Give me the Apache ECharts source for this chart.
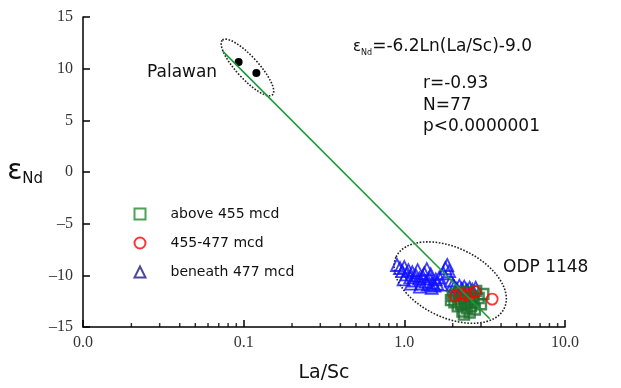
<!DOCTYPE html>
<html>
<head>
<meta charset="utf-8">
<script src="https://cdn.jsdelivr.net/npm/echarts@6/dist/echarts.min.js"></script>
<style>
  html, body { margin: 0; padding: 0; background: #fff; }
  #chart { width: 621px; height: 388px; }
</style>
</head>
<body>
<div id="chart"></div>
<script>
  // La/Sc vs eNd, Palawan and ODP 1148
  const minorTicks = [0.02, 0.03, 0.04, 0.05, 0.06, 0.07, 0.08, 0.09,
    0.2, 0.3, 0.4, 0.5, 0.6, 0.7, 0.8, 0.9, 2, 3, 4, 5, 6, 7, 8, 9];

  const palawan = [[0.093, 10.64], [0.120, 9.59]];

  const beneath477 = [
    [0.90, -9.0], [0.94, -9.3], [0.97, -9.6], [1.00, -9.2], [1.03, -9.9],
    [1.06, -9.5], [1.09, -10.2], [1.12, -9.7], [1.15, -10.5], [1.18, -10.0],
    [1.21, -9.5], [1.24, -10.3], [1.27, -10.8], [1.30, -10.1], [1.33, -9.8],
    [1.36, -10.6], [1.40, -10.9], [1.43, -10.3], [1.46, -9.9], [1.50, -10.7],
    [1.54, -11.0], [1.57, -10.4], [1.60, -10.8], [1.65, -10.2], [1.70, -10.9],
    [1.75, -9.8], [1.80, -9.3], [1.85, -9.0], [1.90, -9.6], [1.95, -10.5],
    [2.00, -10.9], [2.05, -11.1], [2.12, -11.3], [2.20, -11.0], [2.28, -11.3],
    [2.36, -11.1], [2.45, -11.4], [2.55, -11.2], [2.65, -11.4], [2.78, -11.2],
    [1.10, -10.8], [1.25, -11.1], [1.48, -11.2], [0.99, -10.4], [1.38, -9.4]
  ];

  const above455 = [
    [2.00, -12.0], [2.05, -12.6], [2.10, -11.8], [2.15, -13.0], [2.20, -12.3],
    [2.25, -12.8], [2.30, -13.5], [2.35, -12.1], [2.40, -12.7], [2.45, -13.2],
    [2.50, -11.6], [2.55, -12.4], [2.60, -13.0], [2.65, -12.0], [2.70, -12.6],
    [2.80, -11.5], [2.90, -12.2], [3.00, -12.8], [3.10, -11.8], [2.35, -13.8],
    [2.55, -13.6], [2.75, -13.3], [2.20, -11.6], [1.95, -12.4]
  ];

  const mid455to477 = [
    [2.23, -11.8], [2.57, -11.8], [2.76, -11.6], [3.52, -12.3], [2.07, -12.0], [2.40, -11.9]
  ];

  const fitLine = [[0.074, 11.7], [3.4, -14.2]];

  // major axis ends of the dotted ellipses (data units) + half width in px
  const groupOutlines = [
    [0.0738, 12.76, 0.151, 7.47, 11],
    [0.889, -8.22, 4.19, -13.18, 35]
  ];

  const chart = echarts.init(document.getElementById("chart"));

  const textFont = "DejaVu Sans";
  const tickFont = "Liberation Serif";

  chart.setOption({
    animation: false,
    backgroundColor: "#fff",
    grid: { left: 83, right: 56, top: 17, bottom: 59 },
    legend: {
      orient: "vertical",
      left: 127,
      top: 201,
      itemWidth: 11,
      itemHeight: 11,
      itemGap: 13,
      selectedMode: false,
      textStyle: { fontFamily: textFont, fontSize: 14, color: "#111", padding: [0, 0, 0, 20] },
      data: [
        { name: "above 455 mcd", itemStyle: { borderColor: "#1f8a2a" } },
        { name: "455-477 mcd", itemStyle: { borderColor: "#ff0000" } },
        { name: "beneath 477 mcd", itemStyle: { borderColor: "#1f1a80" } }
      ]
    },
    xAxis: {
      type: "log",
      logBase: 10,
      min: 0.01,
      max: 10,
      name: "La/Sc",
      nameLocation: "middle",
      nameGap: 37,
      nameTextStyle: { fontFamily: textFont, fontSize: 19, color: "#111" },
      axisLine: { onZero: false, lineStyle: { color: "#000", width: 1.5 } },
      axisTick: { inside: true, length: 7, lineStyle: { color: "#000", width: 1.5 } },
      axisLabel: {
        fontFamily: tickFont, fontSize: 16, color: "#333", margin: 8,
        formatter: (v) => Number(v).toFixed(1)
      },
      splitLine: { show: false }
    },
    yAxis: {
      type: "value",
      min: -15,
      max: 15,
      interval: 5,
      name: "{e|ε}{s|Nd}",
      nameLocation: "middle",
      nameRotate: 0,
      nameGap: 34,
      nameTextStyle: {
        rich: {
          e: { fontFamily: textFont, fontSize: 28, color: "#111", lineHeight: 30 },
          s: { fontFamily: textFont, fontSize: 15, color: "#111", verticalAlign: "bottom", lineHeight: 15 }
        }
      },
      axisLine: { show: true, onZero: false, lineStyle: { color: "#000", width: 1.5 } },
      axisTick: { show: true, inside: true, length: 7, lineStyle: { color: "#000", width: 1.5 } },
      axisLabel: {
        fontFamily: tickFont, fontSize: 16, color: "#333", margin: 10,
        formatter: (v) => String(v).replace("-", "\u2013")
      },
      splitLine: { show: false }
    },
    graphic: [
      {
        type: "text", x: 147, y: 73,
        style: { text: "Palawan", fontFamily: textFont, fontSize: 17, fill: "#111", verticalAlign: "middle" }
      },
      {
        type: "text", x: 503, y: 268,
        style: { text: "ODP 1148", fontFamily: textFont, fontSize: 17, fill: "#111", verticalAlign: "middle" }
      },
      {
        type: "text", x: 353, y: 47,
        style: {
          text: "{e|ε}{s|Nd}{m|=-6.2Ln(La/Sc)-9.0}",
          verticalAlign: "middle",
          rich: {
            e: { fontFamily: textFont, fontSize: 15, fill: "#111", lineHeight: 20 },
            s: { fontFamily: textFont, fontSize: 8, fill: "#111", verticalAlign: "bottom", lineHeight: 10 },
            m: { fontFamily: textFont, fontSize: 17, fill: "#111", lineHeight: 20 }
          }
        }
      },
      {
        type: "text", x: 423, y: 84,
        style: { text: "r=-0.93", fontFamily: textFont, fontSize: 17, fill: "#111", verticalAlign: "middle" }
      },
      {
        type: "text", x: 423, y: 106,
        style: { text: "N=77", fontFamily: textFont, fontSize: 17, fill: "#111", verticalAlign: "middle" }
      },
      {
        type: "text", x: 423, y: 127,
        style: { text: "p<0.0000001", fontFamily: textFont, fontSize: 17, fill: "#111", verticalAlign: "middle" }
      }
    ],
    series: [
      {
        type: "scatter",
        name: "minor ticks",
        silent: true,
        symbol: "rect",
        symbolSize: [1.5, 4],
        symbolOffset: [0, -2],
        itemStyle: { color: "#000" },
        data: minorTicks.map((v) => [v, -15]),
        z: 1
      },
      {
        type: "custom",
        name: "outline",
        silent: true,
        renderItem(params, api) {
          const p1 = api.coord([api.value(0), api.value(1)]);
          const p2 = api.coord([api.value(2), api.value(3)]);
          const dx = p2[0] - p1[0];
          const dy = p2[1] - p1[1];
          return {
            type: "ellipse",
            x: (p1[0] + p2[0]) / 2,
            y: (p1[1] + p2[1]) / 2,
            rotation: -Math.atan2(dy, dx),
            shape: { cx: 0, cy: 0, rx: Math.sqrt(dx * dx + dy * dy) / 2, ry: api.value(4) },
            style: { fill: "none", stroke: "#222", lineWidth: 1.6, lineDash: [1.6, 1.6] }
          };
        },
        encode: { x: [0, 2], y: [1, 3] },
        data: groupOutlines,
        z: 2
      },
      {
        type: "scatter",
        name: "beneath 477 mcd",
        symbol: "triangle",
        symbolSize: 12,
        itemStyle: { color: "none", borderColor: "#1010ff", borderWidth: 1.8 },
        data: beneath477,
        z: 3
      },
      {
        type: "scatter",
        name: "above 455 mcd",
        symbol: "rect",
        symbolSize: 10,
        itemStyle: { color: "none", borderColor: "#1b6e2b", borderWidth: 2.4 },
        data: above455,
        z: 4
      },
      {
        type: "scatter",
        name: "455-477 mcd",
        symbol: "circle",
        symbolSize: 11,
        itemStyle: { color: "none", borderColor: "#ff0000", borderWidth: 1.8 },
        data: mid455to477,
        z: 5
      },
      {
        type: "scatter",
        name: "Palawan",
        symbol: "circle",
        symbolSize: 8,
        itemStyle: { color: "#000", opacity: 1 },
        data: palawan,
        z: 5
      },
      {
        type: "line",
        name: "fit",
        symbol: "none",
        silent: true,
        lineStyle: { color: "#1d9a3c", width: 1.6 },
        data: fitLine,
        z: 6
      }
    ]
  });
</script>
</body>
</html>
